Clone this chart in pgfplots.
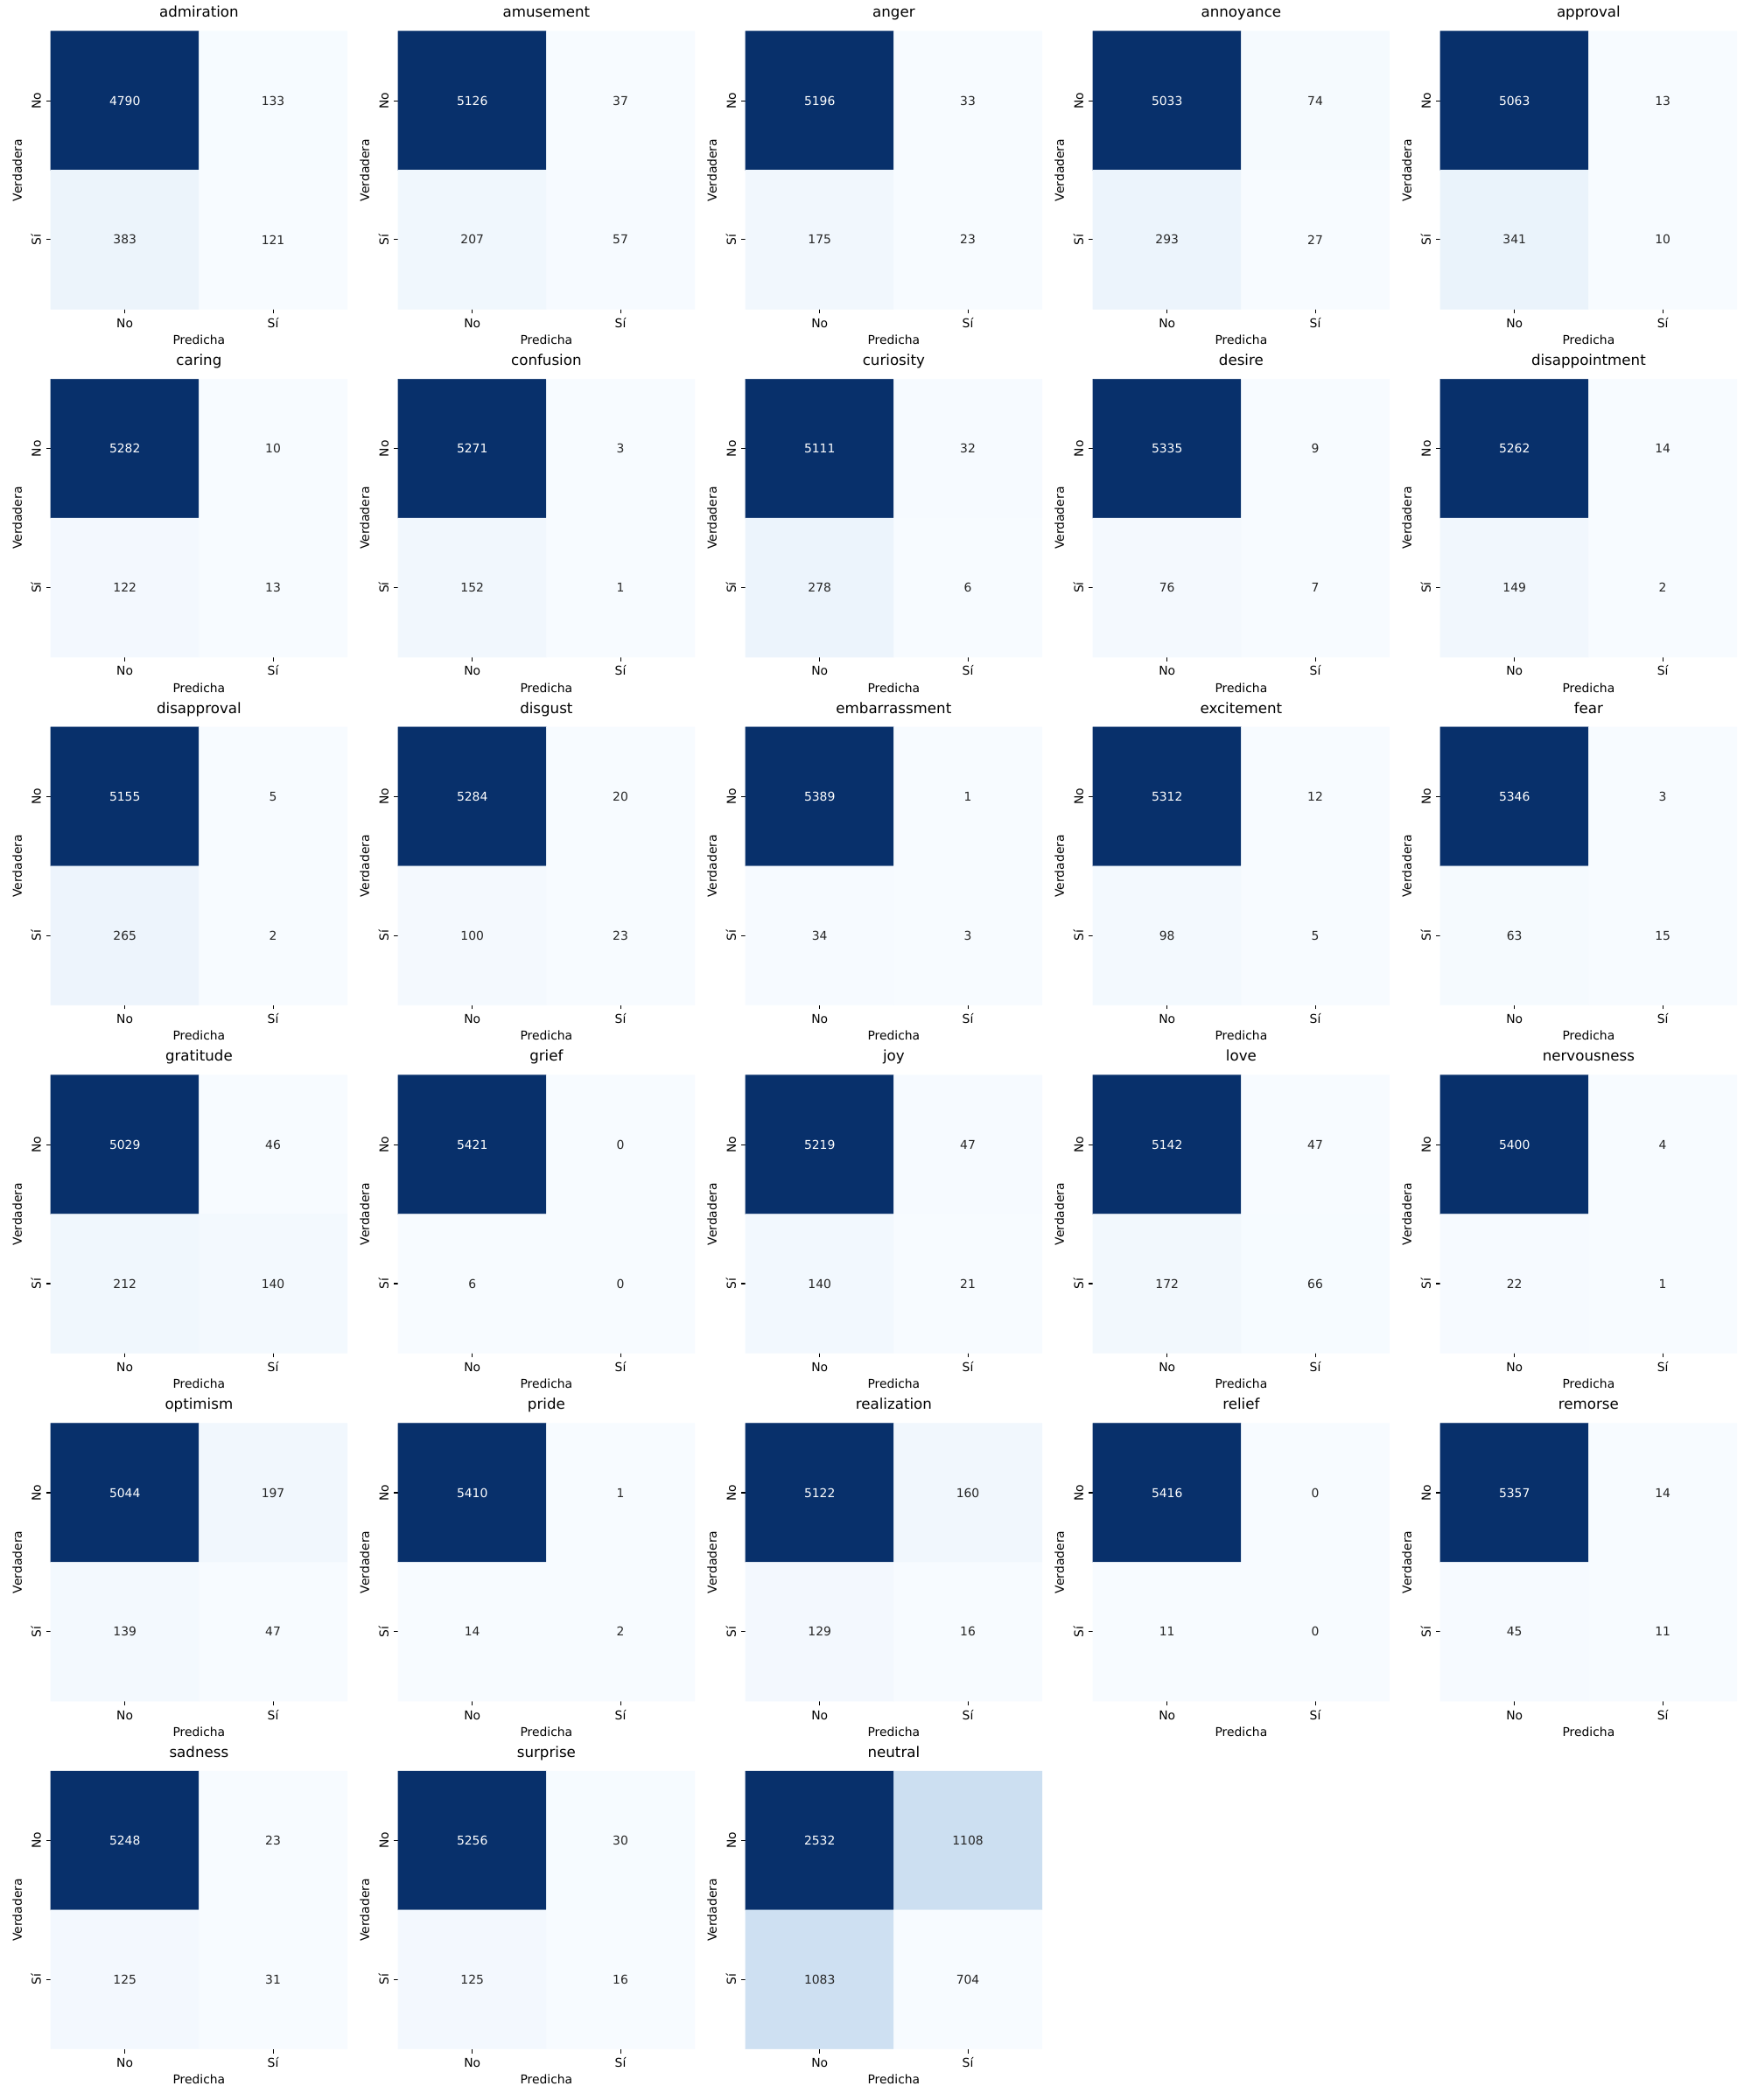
\documentclass[border=0pt]{standalone}
\usepackage{pgfplots}
\pgfplotsset{compat=1.18}
\usepackage{fontspec}
\setmainfont{DejaVu Sans}
\definecolor{annot}{HTML}{262626}
\pgfplotsset{
  colormap={blues}{rgb255=(247,251,255) rgb255=(222,235,247) rgb255=(198,219,239) rgb255=(158,202,225) rgb255=(107,174,214) rgb255=(66,146,198) rgb255=(33,113,181) rgb255=(8,81,156) rgb255=(8,48,107)},
  cmstyle/.style={
    scale only axis, width=243.9pt, height=228.7pt, anchor=north west,
    xmin=-0.5, xmax=1.5, ymin=-0.5, ymax=1.5, y dir=reverse,
    axis line style={draw=none},
    xtick={0,1}, ytick={0,1}, xticklabels={No,Sí}, yticklabels={No,Sí},
    tick align=outside, xtick pos=bottom, ytick pos=left,
    major tick length=3.5pt, tick style={black, line width=0.8pt},
    colormap name=blues,
    ticklabel style={font=\fontsize{10}{12}\selectfont, text=black},
    xticklabel style={anchor=base, yshift=-11.6pt},
    yticklabel style={xshift=-4.6pt, rotate=90, anchor=base},
    title style={font=\fontsize{12}{14}\selectfont, at={(axis description cs:0.5,1)}, anchor=base, yshift=5.5pt},
    xlabel=Predicha, ylabel=Verdadera,
    xlabel style={font=\fontsize{10}{12}\selectfont, at={([yshift=-28.9pt]axis description cs:0.5,0)}, anchor=base},
    ylabel style={font=\fontsize{10}{12}\selectfont, at={([xshift=-23.8pt]axis description cs:0,0.5)}, rotate=0, anchor=base},
    clip=false,
  },
  valtext/.style={only marks, mark=none, point meta=explicit symbolic, nodes near coords={\pgfplotspointmeta},
    nodes near coords align=center, every node near coord/.append style={anchor=center, font=\fontsize{10}{12}\selectfont, text=#1}},
}
% #1 x, #2 y, #3 title, #4 No/No, #5 No/Si, #6 Si/No, #7 Si/Si
\newcommand{\cmat}[7]{%
\begin{axis}[cmstyle, at={(#1pt,-#2pt)}, title={#3}]
\addplot[matrix plot*, mesh/cols=2, point meta=explicit] coordinates {(0,0) [#4] (1,0) [#5] (0,1) [#6] (1,1) [#7]};
\addplot[valtext=white] coordinates {(0,0) [#4]};
\addplot[valtext=annot] coordinates {(1,0) [#5] (0,1) [#6] (1,1) [#7]};
\end{axis}}
\begin{document}
\begin{tikzpicture}
\path[use as bounding box] (0,0) rectangle (1440pt,-1728pt);
\cmat{41.76}{25.7}{admiration}{4790}{133}{383}{121}
\cmat{327.6}{25.7}{amusement}{5126}{37}{207}{57}
\cmat{613.44}{25.7}{anger}{5196}{33}{175}{23}
\cmat{899.28}{25.7}{annoyance}{5033}{74}{293}{27}
\cmat{1185.12}{25.7}{approval}{5063}{13}{341}{10}
\cmat{41.76}{312.0}{caring}{5282}{10}{122}{13}
\cmat{327.6}{312.0}{confusion}{5271}{3}{152}{1}
\cmat{613.44}{312.0}{curiosity}{5111}{32}{278}{6}
\cmat{899.28}{312.0}{desire}{5335}{9}{76}{7}
\cmat{1185.12}{312.0}{disappointment}{5262}{14}{149}{2}
\cmat{41.76}{598.3}{disapproval}{5155}{5}{265}{2}
\cmat{327.6}{598.3}{disgust}{5284}{20}{100}{23}
\cmat{613.44}{598.3}{embarrassment}{5389}{1}{34}{3}
\cmat{899.28}{598.3}{excitement}{5312}{12}{98}{5}
\cmat{1185.12}{598.3}{fear}{5346}{3}{63}{15}
\cmat{41.76}{884.7}{gratitude}{5029}{46}{212}{140}
\cmat{327.6}{884.7}{grief}{5421}{0}{6}{0}
\cmat{613.44}{884.7}{joy}{5219}{47}{140}{21}
\cmat{899.28}{884.7}{love}{5142}{47}{172}{66}
\cmat{1185.12}{884.7}{nervousness}{5400}{4}{22}{1}
\cmat{41.76}{1171.1}{optimism}{5044}{197}{139}{47}
\cmat{327.6}{1171.1}{pride}{5410}{1}{14}{2}
\cmat{613.44}{1171.1}{realization}{5122}{160}{129}{16}
\cmat{899.28}{1171.1}{relief}{5416}{0}{11}{0}
\cmat{1185.12}{1171.1}{remorse}{5357}{14}{45}{11}
\cmat{41.76}{1457.3}{sadness}{5248}{23}{125}{31}
\cmat{327.6}{1457.3}{surprise}{5256}{30}{125}{16}
\cmat{613.44}{1457.3}{neutral}{2532}{1108}{1083}{704}
\end{tikzpicture}
\end{document}
